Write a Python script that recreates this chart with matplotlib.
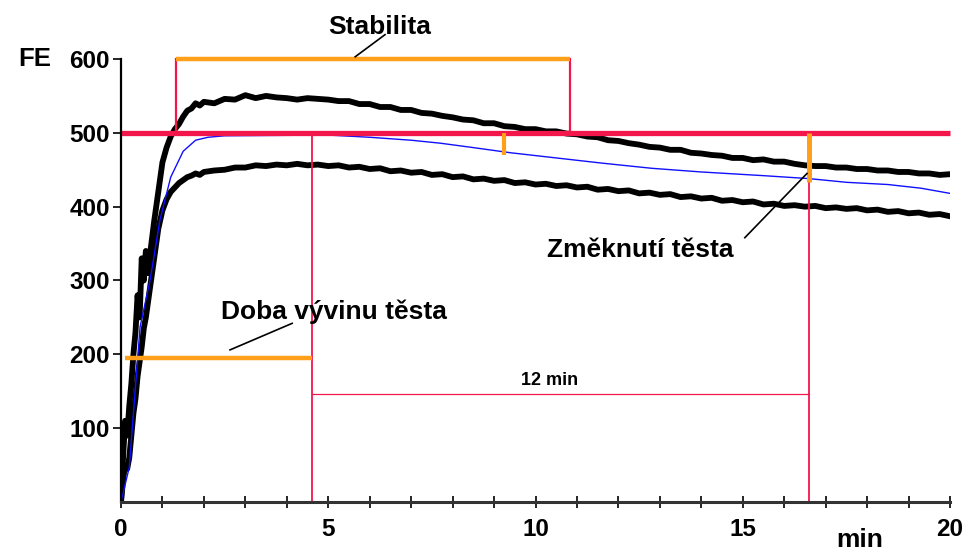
import matplotlib
matplotlib.use('Agg')
import matplotlib.pyplot as plt
import numpy as np

plt.rcParams['font.family'] = ['Liberation Sans', 'DejaVu Sans']

# farinograph curve (time in min, FE units)
t_early = [0.0, 0.05, 0.1, 0.15, 0.2, 0.25, 0.3, 0.35, 0.4, 0.45, 0.5, 0.55, 0.6, 0.65, 0.7,
           0.8, 0.9, 1.0, 1.1, 1.2, 1.3, 1.4, 1.5, 1.6, 1.7, 1.8, 1.9]
t_main = [2.0, 2.25, 2.5, 2.75, 3.0, 3.25, 3.5, 3.75, 4.0, 4.25, 4.5, 4.75, 5.0, 5.25, 5.5, 5.75,
          6.0, 6.25, 6.5, 6.75, 7.0, 7.25, 7.5, 7.75, 8.0, 8.25, 8.5, 8.75, 9.0, 9.25, 9.5, 9.75,
          10.0, 10.25, 10.5, 10.75, 11.0, 11.25, 11.5, 11.75, 12.0, 12.25, 12.5, 12.75, 13.0, 13.25,
          13.5, 13.75, 14.0, 14.25, 14.5, 14.75, 15.0, 15.25, 15.5, 15.75, 16.0, 16.25, 16.5, 16.75,
          17.0, 17.25, 17.5, 17.75, 18.0, 18.25, 18.5, 18.75, 19.0, 19.25, 19.5, 19.75, 20.0]

upper_early = [0, 60, 110, 90, 130, 160, 200, 230, 280, 250, 330, 300, 340, 310, 335,
               380, 420, 460, 480, 495, 505, 512, 522, 530, 533, 540, 537]
upper_main = [542, 540, 546, 545, 551, 547, 550, 548, 547, 545, 547, 546, 545, 543, 543, 539,
              539, 535, 535, 531, 531, 527, 526, 523, 521, 518, 517, 513, 513, 509, 508, 505,
              505, 502, 502, 499, 498, 495, 494, 490, 489, 486, 484, 481, 480, 477,
              477, 473, 472, 470, 469, 466, 466, 463, 464, 461, 461, 458, 456, 455,
              455, 453, 453, 451, 451, 449, 449, 447, 447, 445, 445, 443, 444]

lower_early = [0, 30, 50, 45, 60, 90, 120, 140, 170, 190, 210, 235, 250, 270, 290,
               330, 370, 395, 410, 420, 426, 432, 436, 440, 442, 445, 443]
lower_main = [447, 449, 450, 453, 453, 456, 455, 457, 456, 458, 456, 457, 455, 456, 453, 454,
              451, 452, 448, 449, 446, 447, 443, 444, 440, 441, 437, 438, 435, 436, 432, 433,
              430, 431, 428, 429, 426, 427, 423, 424, 421, 422, 418, 419, 416, 417,
              413, 414, 411, 412, 408, 409, 406, 407, 403, 404, 401, 402, 400, 401,
              398, 399, 397, 398, 395, 396, 393, 394, 391, 392, 389, 390, 387]

t_mid = [0.0, 0.2, 0.46, 0.7, 0.94, 1.2, 1.5, 1.8, 2.1, 2.5, 5.0, 6.0, 7.0, 7.7, 8.5, 9.4,
         10.5, 11.6, 12.8, 14.0, 15.5, 16.6, 17.5, 18.5, 19.3, 20.0]
mid = [0, 47, 237, 300, 382, 440, 475, 490, 494, 496, 497, 494, 490, 486, 480, 473,
       466, 459, 452, 447, 442, 438, 433, 430, 425, 418]

# marks of the evaluation
t_arrival = 1.33
t_departure = 10.83
t_dev = 4.6
t_12 = 16.6
t_soft_start = 9.25
consistency = 500
stab_level = 600
dev_level = 195
level_12 = 146
soft_start_low = 470
soft_low = 433

RED = '#f2164b'
ORANGE = '#ff9f1a'

fig = plt.figure(figsize=(9.71, 5.52), dpi=100)
ax = fig.add_axes([0.1246, 0.0906, 0.8538, 0.8025])

ax.plot(t_early + t_main, upper_early + upper_main, color='black', lw=4.2)
ax.plot(t_early + t_main, lower_early + lower_main, color='black', lw=4.2)
ax.plot(t_mid, mid, color='#1010ff', lw=1.0)

ax.plot([0, 20], [consistency, consistency], color=RED, lw=3.8, solid_capstyle='butt', clip_on=False)
ax.plot([t_arrival, t_arrival], [consistency, stab_level], color=RED, lw=1.6, clip_on=False)
ax.plot([t_departure, t_departure], [consistency, stab_level], color=RED, lw=1.6, clip_on=False)
ax.plot([t_arrival, t_departure], [stab_level, stab_level], color=ORANGE, lw=3.2,
        solid_capstyle='butt', clip_on=False)
ax.plot([t_dev, t_dev], [0, consistency], color=RED, lw=1.3)
ax.plot([t_12, t_12], [0, consistency], color=RED, lw=1.3)
ax.plot([t_dev, t_12], [level_12, level_12], color=RED, lw=0.9)
ax.plot([0.1, t_dev], [dev_level, dev_level], color=ORANGE, lw=3.2, solid_capstyle='butt')
ax.plot([t_soft_start, t_soft_start], [consistency, soft_start_low], color=ORANGE, lw=3.0,
        solid_capstyle='butt')
ax.plot([t_12, t_12], [consistency, soft_low], color=ORANGE, lw=3.6, solid_capstyle='butt')

# leader lines
ax.plot([2.63, 4.13], [206, 242], color='black', lw=1.2)
ax.plot([15.05, 16.55], [358, 445], color='black', lw=1.2)
ax.plot([5.65, 6.37], [603, 633], color='black', lw=1.2, clip_on=False)

fs = 19
ax.text(5.14, 257, 'Doba vývinu těsta', fontsize=fs, fontweight='bold', ha='center', va='center')
ax.text(12.52, 341, 'Změknutí těsta', fontsize=fs, fontweight='bold', ha='center', va='center')
ax.text(6.25, 643, 'Stabilita', fontsize=fs, fontweight='bold', ha='center', va='center',
        clip_on=False)
ax.text(10.35, 164, '12 min', fontsize=13, fontweight='bold', ha='center', va='center')

ax.set_xlim(0, 20)
ax.set_ylim(0, 600)
for s in ['top', 'right']:
    ax.spines[s].set_visible(False)
ax.spines['left'].set_linewidth(1.6)
ax.spines['bottom'].set_linewidth(2.2)
ax.spines['bottom'].set_color('#333333')

ax.set_xticks([0, 5, 10, 15, 20])
ax.set_xticks(range(0, 21), minor=True)
ax.set_yticks([100, 200, 300, 400, 500, 600])
ax.tick_params(axis='x', which='both', direction='inout', length=9, width=1.2, pad=7)
ax.tick_params(axis='y', direction='out', length=6, width=1.2, pad=2)
for lab in ax.get_xticklabels() + ax.get_yticklabels():
    lab.set_fontsize(17.5)
    lab.set_fontweight('bold')

fig.text(35 / 971, 1 - 59 / 552, 'FE', fontsize=18.5, fontweight='bold', ha='center', va='center')
fig.text(860 / 971, 1 - 540 / 552, 'min', fontsize=19, fontweight='bold', ha='center', va='center')

fig.savefig('out.png', dpi=100)
